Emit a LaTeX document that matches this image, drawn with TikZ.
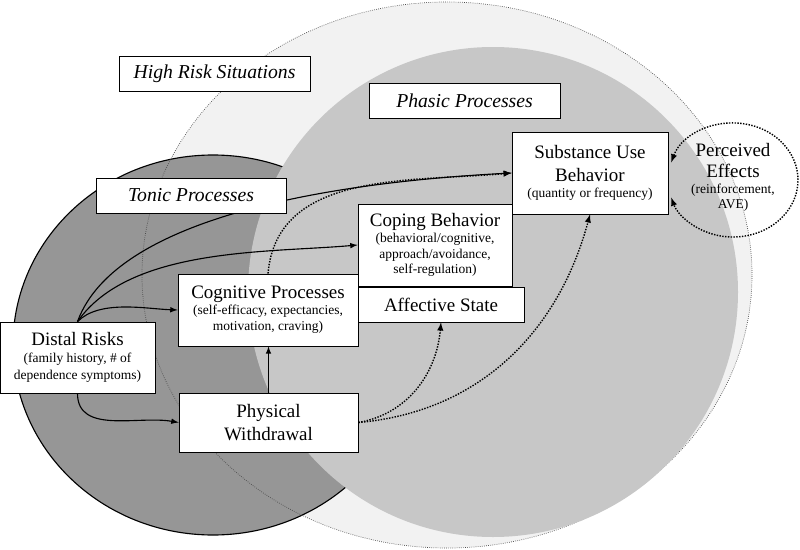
\documentclass[tikz,border=0pt]{standalone}
\usepackage{fontspec}
\setmainfont{Liberation Serif}
\usetikzlibrary{arrows}
\newcommand{\hd}{\fontsize{13.5}{16.4}\selectfont}
\newcommand{\sm}{\fontsize{9.6}{11.5}\selectfont}

\begin{document}
\begin{tikzpicture}[
        box/.style={draw, fill=white, line width=0.6pt, align=center, inner sep=0pt, font=\hd},
        lbl/.style={draw, fill=white, line width=0.6pt, inner sep=0pt, font=\fontsize{14}{16}\selectfont\itshape, minimum height=0.875cm},
        dots/.style={densely dotted, line width=1pt},
        conn/.style={line width=0.8pt, -latex}
    ]
        \useasboundingbox (0,0) rectangle (20,13.725);

        % situations, tonic and phasic areas
        \fill[black!5] (11.175,6.85) ellipse[x radius=7.625, y radius=6.825];
        \draw[fill=black!41, line width=0.8pt] (5.325,5.1) ellipse[x radius=5, y radius=4.75];
        \draw[black!70, densely dotted, line width=0.5pt] (11.175,6.85) ellipse[x radius=7.625, y radius=6.825];
        \fill[black!22] (12.325,6.425) circle[radius=6.125];

        \node[lbl, minimum width=4.775cm] (hrs) at (5.3625,11.8875) {High Risk Situations};
        \node[lbl, minimum width=4.775cm] (pha) at (11.6125,11.2125) {Phasic Processes};

        \node[box, minimum width=3.9cm, minimum height=2.05cm] (sub) at (14.75,9.4)
            {Substance Use\\[-0.5pt] Behavior\\[-5pt] {\sm (quantity or frequency)}};
        \node[box, minimum width=3.85cm, minimum height=2.05cm] (cop) at (10.875,7.6)
            {Coping Behavior\\[-5pt] {\sm (behavioral/cognitive,}\\[-5.5pt] {\sm approach/avoidance,}\\[-5.5pt] {\sm self-regulation)}};
        \node[box, minimum width=4.15cm, minimum height=0.875cm] (aff) at (11.025,6.1125) {Affective State};
        \node[box, minimum width=4.5cm, minimum height=1.8cm] (cog) at (6.7,5.975)
            {Cognitive Processes\\[-5pt] {\sm (self-efficacy, expectancies,}\\[-5pt] {\sm motivation, craving)}};
        \node[box, minimum width=3.875cm, minimum height=1.775cm] (dist) at (1.9375,4.7875)
            {Distal Risks\\[-4.5pt] {\sm (family history, \# of}\\[-4.5pt] {\sm dependence symptoms)}};
        \node[box, minimum width=4.475cm, minimum height=1.475cm] (phy) at (6.7125,3.1625)
            {Physical\\[-0.5pt] Withdrawal};
        \coordinate (effc) at (18.325,9.225);
        \node[align=center, inner sep=0pt, font=\hd] (eff) at ([yshift=2pt]effc)
            {Perceived\\[-1pt] Effects\\[-5pt] {\sm (reinforcement,}\\[-6pt] {\sm AVE)}};

        \draw[conn] (dist.north) to[out=70, in=183, looseness=0.7] (sub.west);
        \draw[conn] (dist.north) to[out=55, in=185, looseness=0.8] (cop.west);
        \draw[conn] (dist.north) to[out=45, in=178, looseness=0.8] (cog.west);
        \draw[conn] (dist.south) to[out=-90, in=170] (phy.west);
        \draw[conn] (phy.north) -- (phy.north |- cog.south);

        \draw[dots, -latex] (phy.east) to[out=10, in=-95] (aff.south);
        \draw[dots, -latex] (phy.east) to[out=5, in=-105] (sub.south);
        \draw[dots, -latex] (cog.north) to[out=85, in=185] (sub.west);
        \draw[dots, latex-latex] ([shift={(162:1.625 and 1.425)}]effc)
            arc[start angle=162, end angle=-162, x radius=1.625, y radius=1.425];

        % drawn last so it hides the long arrow
        \node[lbl, minimum width=4.75cm] (ton) at (4.775,8.8375) {Tonic Processes};
    \end{tikzpicture}
\end{document}
